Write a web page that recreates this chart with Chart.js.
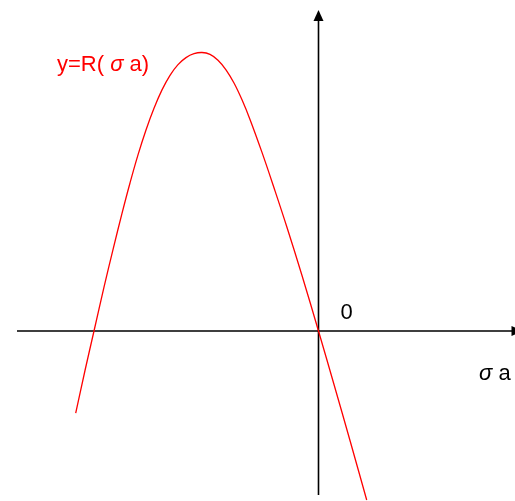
<!DOCTYPE html>
<html>
<head>
<meta charset="utf-8">
<script src="https://cdn.jsdelivr.net/npm/chart.js@4.4.0/dist/chart.umd.min.js"></script>
<style>
  html, body { margin: 0; padding: 0; background: #fff; }
  #wrap { width: 515px; height: 501px; }
</style>
</head>
<body>
<div id="wrap"><canvas id="chart" width="515" height="501"></canvas></div>
<script>
// points along y = R(σa)
const sigmaA = [
  -2.428, -2.335, -2.245, -2.145, -2.055, -1.965, -1.885, -1.805, -1.725, -1.645,
  -1.565, -1.485, -1.405, -1.325, -1.245, -1.165, -1.085, -1.005, -0.925, -0.845,
  -0.765, -0.685, -0.565, -0.445, -0.318, -0.165, 0, 0.155, 0.315, 0.482
];
const rValues = [
  -0.821, -0.395, 0, 0.439, 0.814, 1.176, 1.48, 1.761, 2.01, 2.227,
  2.411, 2.557, 2.664, 2.734, 2.773, 2.785, 2.766, 2.708, 2.612, 2.48,
  2.312, 2.116, 1.786, 1.432, 1.045, 0.555, 0, -0.535, -1.095, -1.69
];

// where the drawn axes start and end, in data units
const xAxisSpan = [-3.015, 2.04];
const yAxisSpan = [-1.64, 3.21];

// text runs: [text, italic]
const curveLabel = [['y=R( ', false], ['σ', true], [' a)', false]];
const xAxisLabel = [['σ', true], [' a', false]];
const originLabel = [['0', false]];

const FAMILY = '"Liberation Sans", Arial, sans-serif';

function drawRuns(ctx, runs, x, y) {
  for (const [text, italic] of runs) {
    ctx.font = (italic ? 'italic ' : '') + '22px ' + FAMILY;
    ctx.fillText(text, x, y);
    x += ctx.measureText(text).width;
  }
}

// draws both axes with arrow heads plus the text labels
const axesPlugin = {
  id: 'axesPlugin',
  beforeDatasetsDraw(chart) {
    const { ctx, scales: { x, y } } = chart;
    const x0 = x.getPixelForValue(0);
    const y0 = y.getPixelForValue(0);
    const xl = x.getPixelForValue(xAxisSpan[0]);
    const xr = x.getPixelForValue(xAxisSpan[1]);
    const yb = y.getPixelForValue(yAxisSpan[0]);
    const yt = y.getPixelForValue(yAxisSpan[1]);

    ctx.save();
    ctx.strokeStyle = '#000';
    ctx.fillStyle = '#000';
    ctx.lineWidth = 1.6;
    ctx.beginPath();
    ctx.moveTo(xl, y0);
    ctx.lineTo(xr - 6, y0);
    ctx.moveTo(x0, yb);
    ctx.lineTo(x0, yt + 6);
    ctx.stroke();

    // arrow heads
    ctx.beginPath();
    ctx.moveTo(x0, yt);
    ctx.lineTo(x0 - 5, yt + 11);
    ctx.lineTo(x0 + 5, yt + 11);
    ctx.closePath();
    ctx.fill();
    ctx.beginPath();
    ctx.moveTo(xr, y0);
    ctx.lineTo(xr - 11, y0 - 5);
    ctx.lineTo(xr - 11, y0 + 5);
    ctx.closePath();
    ctx.fill();

    ctx.textAlign = 'left';
    ctx.textBaseline = 'alphabetic';
    drawRuns(ctx, originLabel, x0 + 22, y0 - 12);
    drawRuns(ctx, xAxisLabel, 479, y0 + 49);
    ctx.fillStyle = '#ff0000';
    drawRuns(ctx, curveLabel, 57, 71);
    ctx.restore();
  }
};

new Chart(document.getElementById('chart'), {
  type: 'scatter',
  data: {
    datasets: [{
      data: sigmaA.map((v, i) => ({ x: v, y: rValues[i] })),
      showLine: true,
      borderColor: '#ff0000',
      borderWidth: 1.3,
      pointRadius: 0,
      tension: 0.4,
      fill: false,
    }],
  },
  options: {
    responsive: false,
    animation: false,
    events: [],
    layout: { padding: 0 },
    plugins: {
      legend: { display: false },
      tooltip: { enabled: false },
    },
    scales: {
      x: { type: 'linear', display: false, min: -3.185, max: 1.965 },
      y: { type: 'linear', display: false, min: -1.70, max: 3.31 },
    },
  },
  plugins: [axesPlugin],
});
</script>
</body>
</html>
